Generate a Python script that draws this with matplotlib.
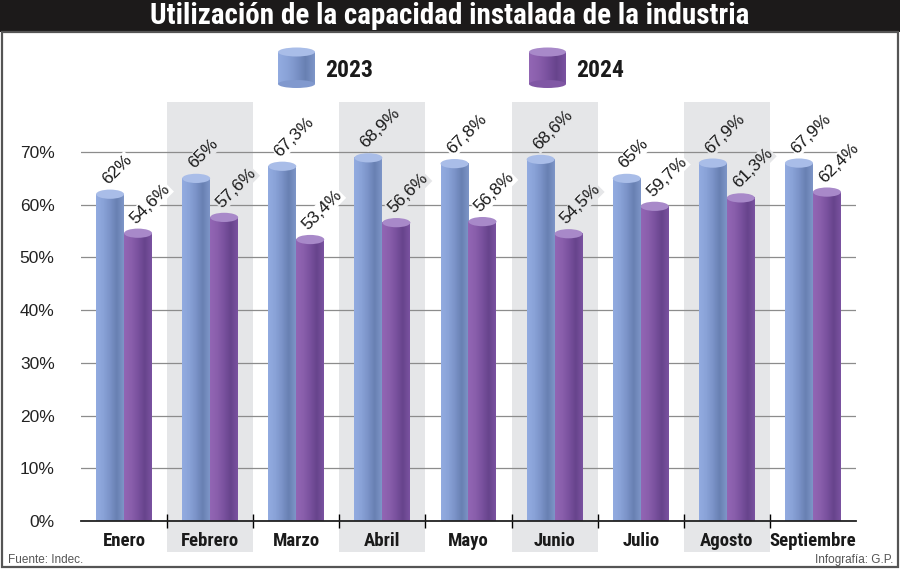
import numpy as np
import matplotlib
matplotlib.use("Agg")
import matplotlib.pyplot as plt
from matplotlib.colors import LinearSegmentedColormap
from matplotlib.patches import Rectangle, Ellipse
import matplotlib.transforms as mtransforms

months = ["Enero", "Febrero", "Marzo", "Abril", "Mayo", "Junio",
          "Julio", "Agosto", "Septiembre"]
values_2023 = [62, 65, 67.3, 68.9, 67.8, 68.6, 65, 67.9, 67.9]
values_2024 = [54.6, 57.6, 53.4, 56.6, 56.8, 54.5, 59.7, 61.3, 62.4]
series_names = ["2023", "2024"]
y_ticks = [0, 10, 20, 30, 40, 50, 60, 70]

NARROW = ["Roboto Condensed", "Archivo Narrow", "Barlow Condensed", "DejaVu Sans"]
REGULAR = ["Liberation Sans", "DejaVu Sans"]

# body gradients (left -> right) and top colours
cmaps = [
    LinearSegmentedColormap.from_list("c23", ["#92abe0", "#8aa3d8", "#7b93c8", "#6880b2", "#7d95c8"]),
    LinearSegmentedColormap.from_list("c24", ["#9266b4", "#8a5fac", "#7a519f", "#67448c", "#7a52a0"]),
]
top_colors = ["#a9bde8", "#a889c9"]
band_color = "#e5e6e8"


def fmt(v):
    return f"{v:g}".replace(".", ",") + "%"


def cylinder(ax, x0, w, h, cmap, top, ell_h):
    grad = np.linspace(0, 1, 64).reshape(1, -1)
    ax.imshow(grad, extent=(x0, x0 + w, 0, h), aspect="auto", cmap=cmap,
              interpolation="bilinear", zorder=2)
    ax.add_patch(Ellipse((x0 + w / 2, h), w, ell_h, facecolor=top,
                         edgecolor="none", zorder=2.1))


fig = plt.figure(figsize=(9, 5.69), dpi=100)

# decoration layer in pixel coordinates
deco = fig.add_axes([0, 0, 1, 1], zorder=-1)
deco.add_patch(Rectangle((0, 0), 900, 32, facecolor="#1c1a1a", edgecolor="none"))
deco.add_patch(Rectangle((1.5, 32), 896, 535, facecolor="none", edgecolor="#555555", lw=1.6))
deco.text(450, 16, "Utilización de la capacidad instalada de la industria",
          color="white", fontsize=21, fontweight="bold", family=NARROW,
          ha="center", va="center")
deco.text(8, 560, "Fuente: Indec.", color="#555555", fontsize=8.5, family=REGULAR,
          ha="left", va="center")
deco.text(893, 560, "Infografía: G.P.", color="#555555", fontsize=8.5, family=REGULAR,
          ha="right", va="center")

ax = fig.add_axes([81 / 900, 1 - 521 / 569, (856 - 81) / 900, (521 - 102) / 569])
ymax = (521 - 102) / 5.271
n = len(months)
bw = 0.325
ell_h = 1.75

# alternating shaded bands, extending under the month labels
trans = mtransforms.blended_transform_factory(ax.transData, ax.transAxes)
for i in range(n):
    if i % 2 == 1:
        ax.add_patch(Rectangle((i - 0.5, -0.074), 1, 1.074, transform=trans,
                               facecolor=band_color, edgecolor="none",
                               clip_on=False, zorder=0))

for i in range(n):
    for k, vals in enumerate([values_2023, values_2024]):
        x0 = i - bw + k * bw
        cylinder(ax, x0, bw, vals[i], cmaps[k], top_colors[k], ell_h)
        bg = band_color if i % 2 == 1 else "white"
        ax.text(x0 + bw * 0.42, vals[i] + 1.7, fmt(vals[i]), rotation=45,
                rotation_mode="anchor", ha="left", va="baseline",
                fontsize=12.5, family=REGULAR, color="#1a1a1a", zorder=3,
                bbox=dict(facecolor=bg, edgecolor="none", pad=0.6))

ax.set_xlim(-0.5, n - 0.5)
ax.set_ylim(0, ymax)
for s in ax.spines.values():
    s.set_visible(False)

ax.set_yticks(y_ticks)
ax.set_yticklabels([f"{v}%" for v in y_ticks], family=REGULAR, fontsize=12.5,
                   color="#222222")
ax.tick_params(axis="y", length=0, pad=19)
ax.yaxis.grid(True, color="#8c8c8c", lw=0.9)
ax.set_axisbelow(True)

ax.set_xticks(np.arange(n - 1) + 0.5)
ax.set_xticklabels([])
ax.tick_params(axis="x", which="major", direction="inout", length=10,
               width=1, color="black")
ax.set_xticks(np.arange(n), minor=True)
ax.set_xticklabels(months, minor=True, family=NARROW, fontweight="bold",
                   fontsize=13.5, color="#1a1a1a")
ax.tick_params(axis="x", which="minor", length=0, pad=8)
ax.axhline(0, color="#222222", lw=1.3, zorder=4, clip_on=False)

# legend cylinders
for k, name in enumerate(series_names):
    lx = 278 + k * 251
    lw_px = 37
    grad = np.linspace(0, 1, 64).reshape(1, -1)
    deco.imshow(grad, extent=(lx, lx + lw_px, 84, 52), aspect="auto",
                cmap=cmaps[k], interpolation="bilinear", zorder=2)
    deco.add_patch(Ellipse((lx + lw_px / 2, 84), lw_px, 8,
                           facecolor=cmaps[k](0.4), edgecolor="none", zorder=2))
    deco.add_patch(Ellipse((lx + lw_px / 2, 52), lw_px, 9,
                           facecolor=top_colors[k], edgecolor="none", zorder=2.1))
    deco.text(lx + 47, 70, name, fontsize=17, fontweight="bold", family=NARROW,
              color="#1a1a1a", ha="left", va="center")
deco.set_xlim(0, 900)
deco.set_ylim(569, 0)
deco.axis("off")

fig.savefig("out.png", dpi=100, facecolor="white")
